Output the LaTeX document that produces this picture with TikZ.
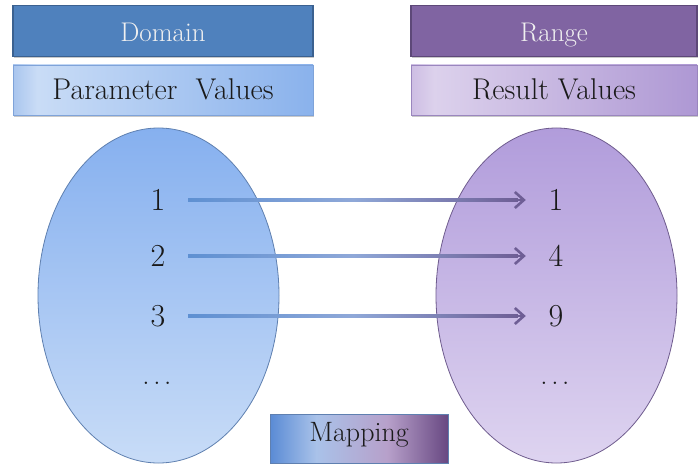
\documentclass[tikz,border=0pt]{standalone}
\usetikzlibrary{shapes.geometric,arrows.meta,shadows,calc}
\definecolor{domfill}{HTML}{4F81BD}
\definecolor{domdraw}{HTML}{3B6190}
\definecolor{rngfill}{HTML}{8064A2}
\definecolor{rngdraw}{HTML}{5D4878}
\definecolor{pvA}{HTML}{A9C5EE}
\definecolor{pvB}{HTML}{C9DCF6}
\definecolor{pvC}{HTML}{8AB2EC}
\definecolor{pvdraw}{HTML}{7FA3D9}
\definecolor{rvA}{HTML}{CDBDE3}
\definecolor{rvB}{HTML}{DCD1EC}
\definecolor{rvC}{HTML}{AE98D4}
\definecolor{rvdraw}{HTML}{9A86BE}
\definecolor{elAtop}{HTML}{86B0EF}
\definecolor{elAbot}{HTML}{C8DCF7}
\definecolor{elAdraw}{HTML}{5F80B0}
\definecolor{elBtop}{HTML}{B19CDB}
\definecolor{elBbot}{HTML}{DED4F0}
\definecolor{elBdraw}{HTML}{6F5C8E}
\definecolor{arrA}{HTML}{5E90D2}
\definecolor{arrM}{HTML}{8FA8D8}
\definecolor{arrB}{HTML}{6E5E95}
\definecolor{mapA}{HTML}{5A8BD5}
\definecolor{mapB}{HTML}{A9C2E9}
\definecolor{mapC}{HTML}{B7A0CA}
\definecolor{mapD}{HTML}{684882}
\definecolor{txt}{HTML}{1A1A1A}
\pgfdeclarehorizontalshading{pvshade}{100bp}{color(0bp)=(pvA); color(25bp)=(pvA); color(29bp)=(pvB); color(75bp)=(pvC); color(100bp)=(pvC)}
\pgfdeclarehorizontalshading{rvshade}{100bp}{color(0bp)=(rvA); color(25bp)=(rvA); color(29bp)=(rvB); color(75bp)=(rvC); color(100bp)=(rvC)}
\pgfdeclarehorizontalshading{mapshade}{100bp}{color(0bp)=(mapA); color(25bp)=(mapA); color(38bp)=(mapB); color(58bp)=(mapC); color(75bp)=(mapD); color(100bp)=(mapD)}
\pgfdeclarehorizontalshading{arrshade}{100bp}{color(0bp)=(arrA); color(25bp)=(arrA); color(50bp)=(arrM); color(75bp)=(arrB); color(100bp)=(arrB)}
\tikzset{
  boxshadow/.style={drop shadow={shadow xshift=1pt,shadow yshift=-2pt,opacity=0.35,fill=black!60}},
  headbox/.style={rectangle,minimum height=51pt,inner sep=0pt,line width=1.2pt,boxshadow,text=white!94!black,font=\fontsize{27}{32}\selectfont,text height=22pt,text depth=0pt},
  subbox/.style={rectangle,minimum height=50pt,inner sep=0pt,line width=0.8pt,boxshadow,text=txt,font=\fontsize{30}{36}\selectfont,text height=20pt,text depth=0pt},
  setell/.style={ellipse,minimum width=241pt,minimum height=335pt,inner sep=0pt,line width=0.8pt},
  num/.style={minimum width=60pt,inner sep=0pt,text=txt,font=\fontsize{32}{38}\selectfont},
  dotsnode/.style={inner sep=0pt,text=txt,font=\fontsize{26}{30}\selectfont},
  conn/.style={line width=2.6pt,draw=arrB,-{Straight Barb[length=9pt,width=16pt,line width=2.6pt]}},
}
\begin{document}
\begin{tikzpicture}[x=1pt,y=-1pt]
\useasboundingbox[fill=white] (0,0) rectangle (698,465);
% header boxes
\node[headbox,minimum width=300pt,fill=domfill,draw=domdraw] (domain) at (163,31) {Domain};
\node[subbox,minimum width=300pt,shading=pvshade,draw=pvdraw] (pv) at (163,90) {Parameter\ \ Values};
\node[headbox,minimum width=286pt,fill=rngfill,draw=rngdraw] (range) at (554,31) {Range};
\node[subbox,minimum width=286pt,shading=rvshade,draw=rvdraw] (rv) at (554,90) {Result Values};
% sets
\node[setell,top color=elAtop,bottom color=elAbot,draw=elAdraw] (dom) at (158.5,295.5) {};
\node[setell,top color=elBtop,bottom color=elBbot,draw=elBdraw] (rng) at (556.5,295.5) {};
% elements
\node[num] (a1) at (158,200) {1};
\node[num] (a2) at (158,256) {2};
\node[num] (a3) at (158,316) {3};
\node[dotsnode] (ad) at (157,383) {$\ldots$};
\node[num] (b1) at (556,200) {1};
\node[num] (b2) at (556,256) {4};
\node[num] (b3) at (556,316) {9};
\node[dotsnode] (bd) at (555,383) {$\ldots$};
% mapping arrows
\foreach \i in {1,2,3}{
  \draw[conn] (a\i) -- (b\i);
  \shade[shading=arrshade] ($(a\i.east)+(0,-1.3)$) rectangle ($(b\i.west)+(-8,1.3)$);
}
% mapping label
\node[rectangle,minimum width=178pt,minimum height=49pt,inner sep=0pt,shading=mapshade,draw=elAdraw,line width=0.8pt,text=txt,font=\fontsize{28}{33}\selectfont,text height=6pt,text depth=0pt] (map) at (359,438.5) {Mapping};
\end{tikzpicture}
\end{document}
